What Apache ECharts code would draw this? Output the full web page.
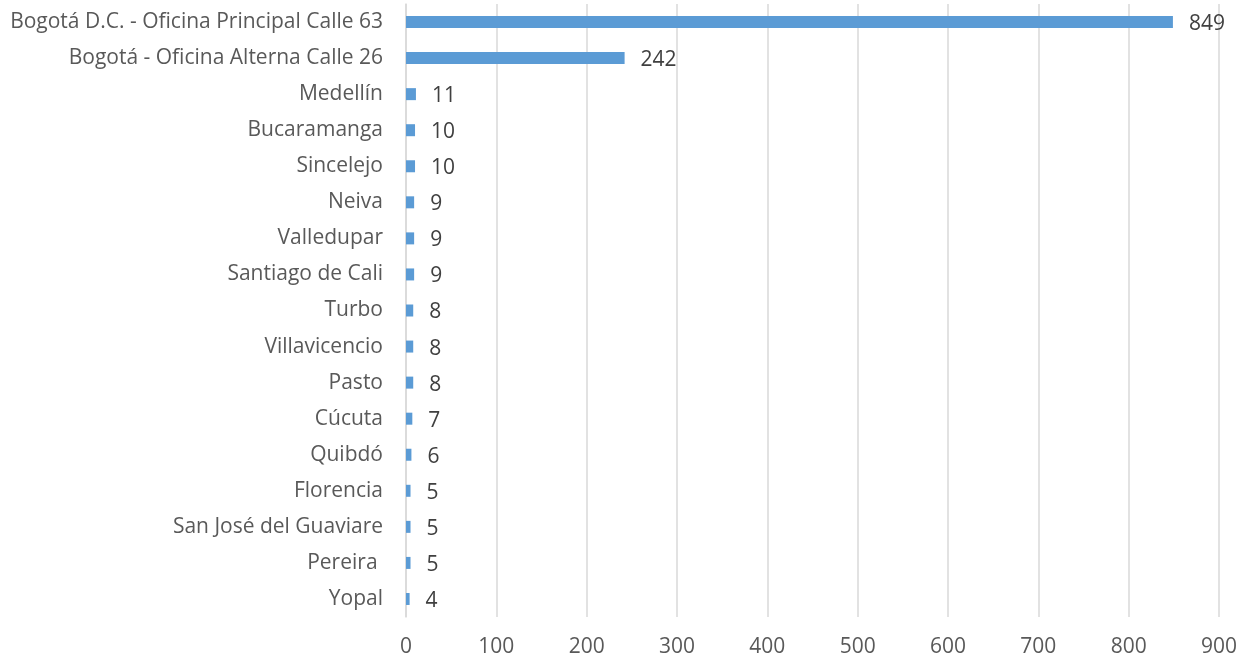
<!DOCTYPE html>
<html>
<head>
<meta charset="utf-8">
<script src="https://cdn.jsdelivr.net/npm/echarts@6/dist/echarts.min.js"></script>
<style>
  html, body { margin: 0; padding: 0; background: #ffffff; }
  #chart { width: 1240px; height: 659px; }
</style>
</head>
<body>
<div id="chart"></div>
<script>
// Offices listed top to bottom
const categories = [
  'Bogotá D.C. - Oficina Principal Calle 63',
  'Bogotá - Oficina Alterna Calle 26',
  'Medellín',
  'Bucaramanga',
  'Sincelejo',
  'Neiva',
  'Valledupar',
  'Santiago de Cali',
  'Turbo',
  'Villavicencio',
  'Pasto',
  'Cúcuta',
  'Quibdó',
  'Florencia',
  'San José del Guaviare',
  'Pereira ',
  'Yopal'
];
const values = [849, 242, 11, 10, 10, 9, 9, 9, 8, 8, 8, 7, 6, 5, 5, 5, 4];
const xTicks = [0, 100, 200, 300, 400, 500, 600, 700, 800, 900];

const FONT = '"Open Sans", "Noto Sans", sans-serif';
const TEXT = '#595959';

const chart = echarts.init(document.getElementById('chart'));
chart.setOption({
  animation: false,
  backgroundColor: '#ffffff',
  grid: { left: 406, right: 21, top: 4, bottom: 42, containLabel: false },
  xAxis: {
    type: 'value',
    min: xTicks[0],
    max: xTicks[xTicks.length - 1],
    interval: 100,
    axisLine: { show: false },
    axisTick: { show: false },
    splitLine: { show: true, lineStyle: { color: '#d9d9d9', width: 1.5 } },
    axisLabel: { color: TEXT, fontFamily: FONT, fontSize: 21, margin: 20 }
  },
  yAxis: {
    type: 'category',
    data: categories,
    inverse: true,
    axisLine: { show: true, lineStyle: { color: '#d9d9d9', width: 1.5 } },
    axisTick: { show: false },
    axisLabel: { color: TEXT, fontFamily: FONT, fontSize: 21, margin: 23 }
  },
  series: [{
    type: 'bar',
    data: values,
    barWidth: 12,
    itemStyle: { color: '#5b9bd5' },
    label: {
      show: true,
      position: 'right',
      distance: 16,
      offset: [0, 2],
      color: '#404040',
      fontFamily: FONT,
      fontSize: 21
    }
  }]
});
</script>
</body>
</html>
